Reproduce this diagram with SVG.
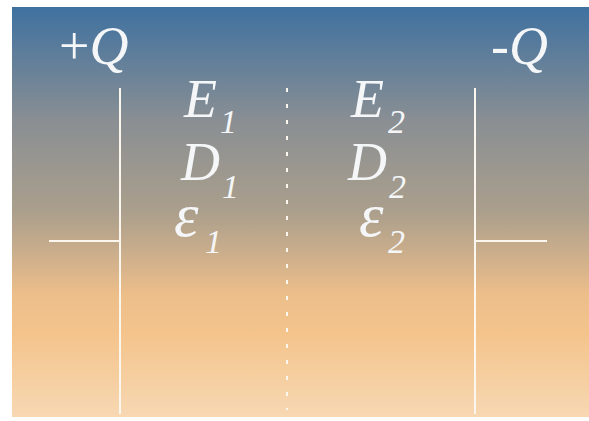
<svg xmlns="http://www.w3.org/2000/svg" width="589" height="421" viewBox="0 0 589 421">
<defs>
<linearGradient id="bg" gradientUnits="userSpaceOnUse" x1="0" y1="7" x2="0" y2="417">
<stop offset="0" stop-color="#3f71a0"/>
<stop offset="0.28" stop-color="#8a8f93"/>
<stop offset="0.5" stop-color="#ab9f8c"/>
<stop offset="0.6" stop-color="#cbae8c"/>
<stop offset="0.7" stop-color="#ecbe8a"/>
<stop offset="0.8" stop-color="#f4c48c"/>
<stop offset="1" stop-color="#f7d8b3"/>
</linearGradient>
</defs>
<style>
.t{font-family:"Liberation Serif","Times New Roman",serif;font-style:italic;fill:#f4f6f8;font-size:54px}
.e{font-family:"Liberation Serif","Times New Roman",serif;font-style:italic;fill:#f4f6f8;font-size:62px}
.s{font-family:"Liberation Serif","Times New Roman",serif;font-style:italic;fill:#f4f6f8;font-size:34px}
.p{stroke:#fbf7ef;stroke-width:2;fill:none}
.d{stroke:#fbf7ef;stroke-width:2;stroke-dasharray:4 12;fill:none}
</style>
<rect x="0" y="0" width="589" height="421" fill="#ffffff"/>
<rect x="12" y="7" width="577" height="410" fill="url(#bg)"/>
<g id="plate-left">
<line class="p" x1="120" y1="88" x2="120" y2="414"/>
<line class="p" x1="49" y1="241" x2="120" y2="241"/>
<text class="t" x="59" y="64"><tspan font-style="normal">+</tspan>Q</text>
</g>
<g id="plate-right">
<line class="p" x1="475" y1="88" x2="475" y2="414"/>
<line class="p" x1="475" y1="241" x2="547" y2="241"/>
<text class="t" x="491" y="64"><tspan font-style="normal">-</tspan>Q</text>
</g>
<g id="boundary">
<line class="d" x1="287" y1="88" x2="287" y2="410"/>
</g>
<g id="region-1">
<text class="t" x="184" y="117">E</text><text class="s" x="220" y="133">1</text>
<text class="t" x="181" y="180">D</text><text class="s" x="222" y="198">1</text>
<text class="e" x="174" y="236">ε</text><text class="s" x="205" y="253">1</text>
</g>
<g id="region-2">
<text class="t" x="351" y="117">E</text><text class="s" x="388" y="133">2</text>
<text class="t" x="348" y="180">D</text><text class="s" x="389" y="198">2</text>
<text class="e" x="359" y="236">ε</text><text class="s" x="388" y="253">2</text>
</g>
</svg>
